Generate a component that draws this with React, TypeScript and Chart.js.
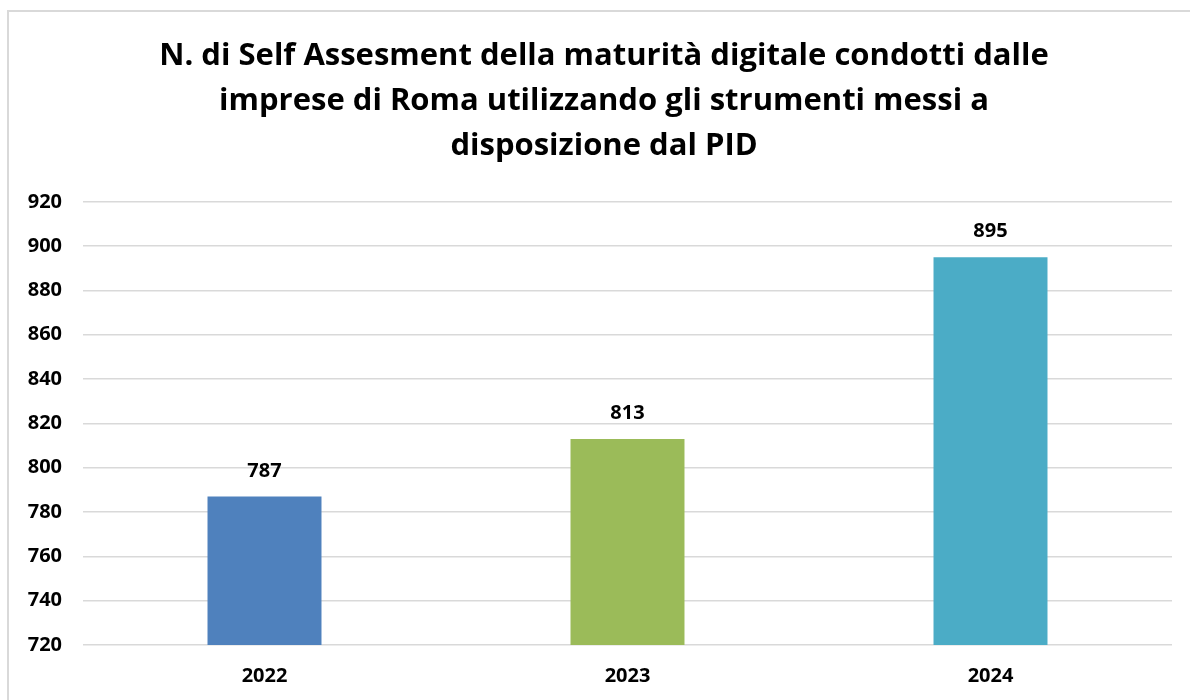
import React, { useEffect, useRef } from "react";
import { Chart, registerables } from "chart.js";

Chart.register(...registerables);

const titleLines = [
  "N. di Self Assesment della maturità digitale condotti dalle",
  "imprese di Roma utilizzando gli strumenti messi a",
  "disposizione dal PID",
];
const categories = ["2022", "2023", "2024"];
const values = [787, 813, 895];
const barColors = ["#4F81BD", "#9BBB59", "#4BACC6"];
const yMin = 720;
const yMax = 920;
const yStep = 20;

const FONT = "'Open Sans', Lato, sans-serif";

const valueLabels = {
  id: "valueLabels",
  afterDatasetsDraw(chart: any) {
    const ctx = chart.ctx;
    const meta = chart.getDatasetMeta(0);
    ctx.save();
    ctx.font = `bold 20px ${FONT}`;
    ctx.fillStyle = "#000000";
    ctx.textAlign = "center";
    ctx.textBaseline = "alphabetic";
    meta.data.forEach((bar: any, i: number) => {
      ctx.fillText(String(values[i]), bar.x, bar.y - 20);
    });
    ctx.restore();
  },
};

export default function App() {
  const ref = useRef<HTMLCanvasElement | null>(null);
  useEffect(() => {
    if (!ref.current) return;
    const chart = new Chart(ref.current, {
      type: "bar",
      data: {
        labels: categories,
        datasets: [
          {
            data: values,
            backgroundColor: barColors,
            borderWidth: 0,
            categoryPercentage: 1,
            barPercentage: 0.314,
          },
        ],
      },
      options: {
        animation: false,
        responsive: false,
        maintainAspectRatio: false,
        layout: { padding: { left: 0, right: 0, top: 0, bottom: 7 } },
        plugins: {
          legend: { display: false },
          tooltip: { enabled: false },
          title: {
            display: true,
            text: titleLines,
            color: "#000000",
            font: { family: FONT, size: 31, weight: "bold", lineHeight: 1.45 },
            padding: { top: 22, bottom: 33 },
          },
        },
        scales: {
          x: {
            grid: { display: false, drawTicks: false },
            border: { display: false },
            ticks: {
              color: "#000000",
              font: { family: FONT, size: 20, weight: "bold" },
              padding: 19,
            },
          },
          y: {
            min: yMin,
            max: yMax,
            grid: { color: "#d9d9d9", lineWidth: 1.5, drawTicks: false },
            border: { display: false },
            afterFit: (scale: any) => {
              scale.width = 74;
            },
            ticks: {
              stepSize: yStep,
              color: "#000000",
              font: { family: FONT, size: 20, weight: "bold" },
              padding: 21,
            },
          },
          yRight: {
            position: "right",
            min: yMin,
            max: yMax,
            grid: { display: false, drawTicks: false },
            border: { display: false },
            ticks: { display: false },
            afterFit: (scale: any) => {
              scale.width = 27;
            },
          },
        },
      },
      plugins: [valueLabels],
    });
    return () => chart.destroy();
  }, []);
  return (
    <div
      style={{
        position: "fixed",
        left: 0,
        top: 0,
        width: 1190,
        height: 700,
        overflow: "hidden",
        background: "#ffffff",
      }}
    >
      <div
        style={{
          position: "absolute",
          left: 7,
          top: 10,
          width: 1190,
          height: 720,
          border: "2px solid #d9d9d9",
          background: "#ffffff",
        }}
      >
        <canvas ref={ref} width={1190} height={702} style={{ display: "block" }} />
      </div>
    </div>
  );
}
